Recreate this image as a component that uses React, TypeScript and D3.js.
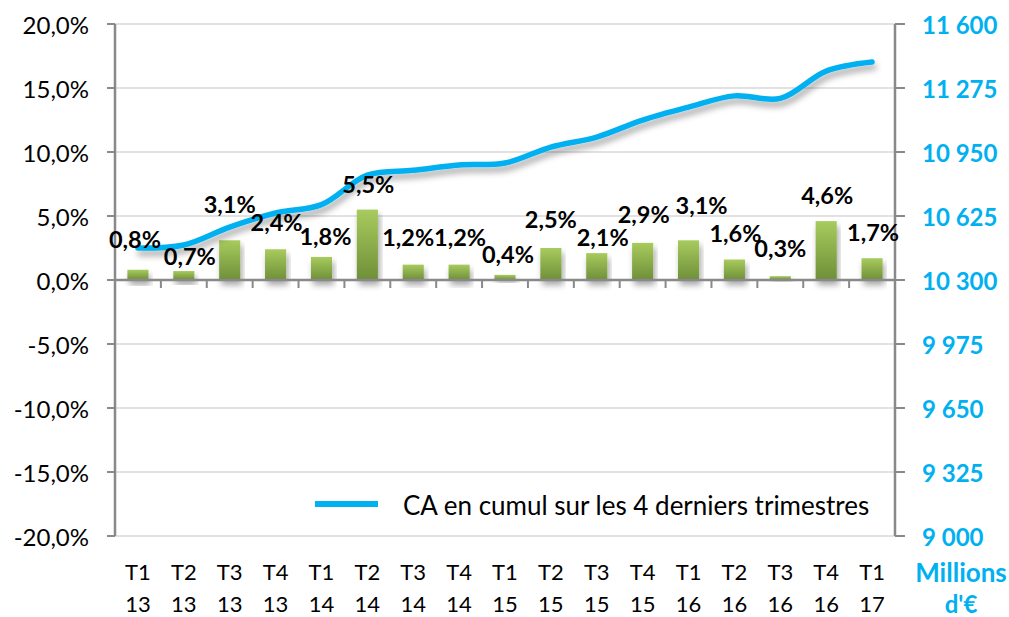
import React from 'react';
import * as d3 from 'd3';

// ---------- data ----------
const quarters = ['T1', 'T2', 'T3', 'T4', 'T1', 'T2', 'T3', 'T4', 'T1', 'T2', 'T3', 'T4', 'T1', 'T2', 'T3', 'T4', 'T1'];
const years = ['13', '13', '13', '13', '14', '14', '14', '14', '15', '15', '15', '15', '16', '16', '16', '16', '17'];
const growthPct = [0.8, 0.7, 3.1, 2.4, 1.8, 5.5, 1.2, 1.2, 0.4, 2.5, 2.1, 2.9, 3.1, 1.6, 0.3, 4.6, 1.7];
const caCumul = [10462, 10478, 10569, 10640, 10683, 10833, 10857, 10884, 10894, 10975, 11026, 11112, 11178, 11235, 11222, 11361, 11407];
const leftTicks = [-20, -15, -10, -5, 0, 5, 10, 15, 20];
const rightTicks = [9000, 9325, 9650, 9975, 10300, 10625, 10950, 11275, 11600];
const legendLabel = 'CA en cumul sur les 4 derniers trimestres';
const rightUnit = ['Millions', "d'\u20AC"];

// ---------- layout (label nudges, in px, relative to bar top / category centre) ----------
const labelDx = [-3, 6, 0, 1, 4, 1, -5, 1, 3, 0, 6, 1, 13, 1, 0, 1, 1];
const labelDy = [-31, -15, -36, -27, -21, -26, -28, -28, -21, -29, -16, -29, -35, -27, -28, -26, -26];

const W = 1009;
const H = 617;
const X0 = 115;
const X1 = 895;
const Y0 = 24;
const Y1 = 536;
const BLUE = '#00B0F0';
const FONT = 'Lato, "DejaVu Sans", sans-serif';

const fmtPct = (v: number) => v.toFixed(1).replace('.', ',') + '%';
const fmtNum = (v: number) => {
  const s = String(v);
  return s.length > 3 ? s.slice(0, s.length - 3) + ' ' + s.slice(-3) : s;
};

export default function App() {
  const idx = quarters.map((_, i) => String(i));
  const x = d3.scaleBand<string>().domain(idx).range([X0, X1]).paddingInner(0.54).paddingOuter(0.27);
  const step = (X1 - X0) / quarters.length;
  const cx = (i: number) => (x(String(i)) as number) + x.bandwidth() / 2;
  const yL = d3.scaleLinear().domain([-20, 20]).range([Y1, Y0]);
  const yR = d3.scaleLinear().domain([9000, 11600]).range([Y1, Y0]);

  const line = d3
    .line<number>()
    .x((_, i) => cx(i))
    .y((d) => yR(d))
    .curve(d3.curveCatmullRom.alpha(0.5));
  const path = line(caCumul) || '';

  const boundaries = d3.range(1, quarters.length).map((k) => X0 + k * step);

  return (
    <svg width={W} height={H} style={{ position: 'absolute', left: 0, top: 0, background: '#fff' }} fontFamily={FONT}>
      <defs>
        <linearGradient id="barGrad" x1="0" y1="0" x2="0" y2="1">
          <stop offset="0%" stopColor="#A8CB5E" />
          <stop offset="100%" stopColor="#6F8F38" />
        </linearGradient>
        <filter id="shadow" x="-20%" y="-50%" width="140%" height="200%">
          <feDropShadow dx="2" dy="5" stdDeviation="3" floodColor="#000" floodOpacity="0.35" />
        </filter>
      </defs>

      {/* gridlines */}
      {leftTicks
        .filter((t) => t !== 0)
        .map((t) => (
          <line key={'g' + t} x1={X0} x2={X1} y1={yL(t)} y2={yL(t)} stroke="#D9D9D9" strokeWidth={1.5} />
        ))}

      {/* bars */}
      {growthPct.map((v, i) => (
        <rect
          key={'b' + i}
          x={x(String(i))}
          y={yL(v)}
          width={x.bandwidth()}
          height={yL(0) - yL(v)}
          fill="url(#barGrad)"
          filter="url(#shadow)"
        />
      ))}

      {/* x axis (zero line) */}
      <line x1={X0} x2={X1} y1={yL(0)} y2={yL(0)} stroke="#898989" strokeWidth={2.5} />
      {boundaries.map((bx, k) => (
        <line key={'xt' + k} x1={bx} x2={bx} y1={yL(0)} y2={yL(0) + 8} stroke="#898989" strokeWidth={2} />
      ))}

      {/* left axis */}
      <line x1={X0} x2={X0} y1={Y0} y2={Y1} stroke="#898989" strokeWidth={2.5} />
      {leftTicks.map((t) => (
        <g key={'lt' + t}>
          <line x1={X0 - 8} x2={X0} y1={yL(t)} y2={yL(t)} stroke="#898989" strokeWidth={2} />
          <text x={89} y={yL(t)} textAnchor="end" dominantBaseline="central" fontSize={24} fill="#000">
            {fmtPct(t)}
          </text>
        </g>
      ))}

      {/* right axis */}
      <line x1={X1} x2={X1} y1={Y0} y2={Y1} stroke="#898989" strokeWidth={2.5} />
      {rightTicks.map((t) => (
        <g key={'rt' + t}>
          <line x1={X1} x2={X1 + 10} y1={yR(t)} y2={yR(t)} stroke="#898989" strokeWidth={2} />
          <text x={922} y={yR(t)} textAnchor="start" dominantBaseline="central" fontSize={24} fontWeight={700} fill={BLUE}>
            {fmtNum(t)}
          </text>
        </g>
      ))}
      <text x={961} y={572} textAnchor="middle" dominantBaseline="central" fontSize={26} fontWeight={700} fill={BLUE}>
        {rightUnit[0]}
      </text>
      <text x={961} y={603} textAnchor="middle" dominantBaseline="central" fontSize={24} fontWeight={700} fill={BLUE}>
        {rightUnit[1]}
      </text>

      {/* category labels */}
      {quarters.map((q, i) => (
        <g key={'c' + i}>
          <text x={cx(i)} y={571} textAnchor="middle" dominantBaseline="central" fontSize={22} fill="#000">
            {q}
          </text>
          <text x={cx(i)} y={603} textAnchor="middle" dominantBaseline="central" fontSize={22} fill="#000">
            {years[i]}
          </text>
        </g>
      ))}

      {/* line */}
      <path d={path} fill="none" stroke={BLUE} strokeWidth={5.5} strokeLinecap="round" filter="url(#shadow)" />

      {/* data labels */}
      {growthPct.map((v, i) => (
        <text
          key={'dl' + i}
          x={cx(i) + labelDx[i]}
          y={yL(v) + labelDy[i]}
          textAnchor="middle"
          dominantBaseline="central"
          fontSize={23.5}
          fontWeight={700}
          fill="#000"
        >
          {fmtPct(v)}
        </text>
      ))}

      {/* legend */}
      <line x1={315} x2={378} y1={504} y2={504} stroke={BLUE} strokeWidth={6} />
      <text x={403} y={505} dominantBaseline="central" fontSize={26} fill="#000">
        {legendLabel}
      </text>
    </svg>
  );
}
